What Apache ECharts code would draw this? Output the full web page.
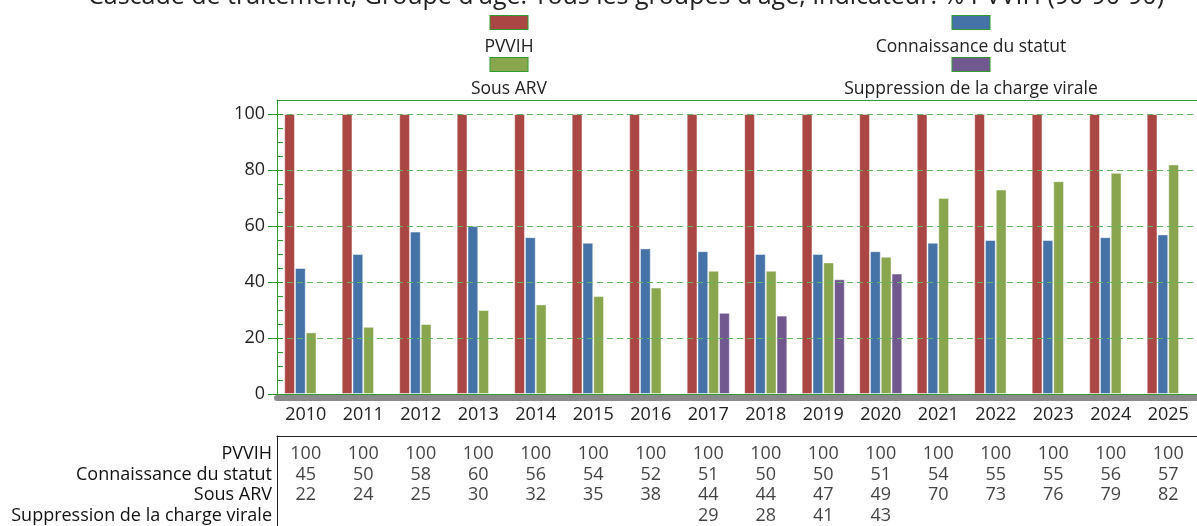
<!DOCTYPE html>
<html style="height: 100%;">

<head>
    <meta charset="utf-8">
    <title>Cascade de traitement</title>
    <script src="https://cdn.jsdelivr.net/npm/echarts@6.0.0/dist/echarts.min.js"></script>
    <style>
        html,
        body {
            height: 100%;
            margin: 0;
            padding: 0;
            background-color: #fff;
        }

        #main {
            width: 1197px;
            height: 526px;
        }
    </style>
</head>

<body>
    <div id="main"></div>
    <script type="text/javascript">
        // données
        var years = ['2010', '2011', '2012', '2013', '2014', '2015', '2016', '2017',
            '2018', '2019', '2020', '2021', '2022', '2023', '2024', '2025'];
        var pvvih = [100, 100, 100, 100, 100, 100, 100, 100, 100, 100, 100, 100, 100, 100, 100, 100];
        var connaissance = [45, 50, 58, 60, 56, 54, 52, 51, 50, 50, 51, 54, 55, 55, 56, 57];
        var sousArv = [22, 24, 25, 30, 32, 35, 38, 44, 44, 47, 49, 70, 73, 76, 79, 82];
        var suppression = [null, null, null, null, null, null, null, 29, 28, 41, 43, null, null, null, null, null];
        var seriesNames = ['PVVIH', 'Connaissance du statut', 'Sous ARV', 'Suppression de la charge virale'];
        var yTicks = [0, 20, 40, 60, 80, 100];

        var seriesValues = [pvvih, connaissance, sousArv, suppression];
        var colors = ['#AA4643', '#4572A7', '#89A54E', '#71588F'];
        var green = '#2f9c2f';
        var font = 'Open Sans';

        var myChart = echarts.init(document.getElementById('main'));

        // légende : carré de couleur au-dessus du nom
        var legendCenters = [[508, 15], [970, 15], [508, 57], [970, 57]];
        var legends = seriesNames.map(function (name, k) {
            var rich = {
                t: { width: 300, align: 'center', fontSize: 17.5, fontFamily: font, color: '#222', padding: [9, 0, 0, 0] }
            };
            rich['b' + k] = {
                width: 37, height: 13, align: 'center',
                backgroundColor: colors[k], borderColor: green, borderWidth: 1
            };
            return {
                data: [name],
                left: legendCenters[k][0] - 155,
                top: legendCenters[k][1],
                padding: 0,
                itemWidth: 0,
                itemHeight: 0,
                itemStyle: { opacity: 0 },
                selectedMode: false,
                formatter: function (n) { return '{b' + k + '|}\n{t|' + n + '}'; },
                textStyle: { rich: rich }
            };
        });

        var series = seriesNames.map(function (name, k) {
            return {
                name: name,
                type: 'bar',
                xAxisIndex: 0,
                yAxisIndex: 0,
                barGap: '0%',
                barCategoryGap: '25%',
                itemStyle: { color: colors[k], borderColor: 'rgba(255,255,255,0.45)', borderWidth: 1 },
                data: seriesValues[k]
            };
        });

        // tableau de données sous le graphique
        var tableData = [];
        seriesValues.forEach(function (row, r) {
            row.forEach(function (v, i) {
                if (v !== null) tableData.push([i, r, v]);
            });
        });
        series.push({
            type: 'scatter',
            xAxisIndex: 4,
            yAxisIndex: 2,
            symbolSize: 1,
            itemStyle: { color: 'transparent' },
            label: {
                show: true,
                position: 'inside',
                fontSize: 18,
                fontFamily: font,
                color: '#111',
                formatter: function (p) { return p.value[2]; }
            },
            data: tableData
        });

        var option = {
            animation: false,
            title: {
                text: "Cascade de traitement, Groupe d'âge: Tous les groupes d'âge, Indicateur: % PVVIH (90-90-90)",
                left: 88,
                top: -16,
                padding: 0,
                textStyle: { fontSize: 25, fontWeight: 'normal', fontFamily: font, color: '#222' }
            },
            legend: legends,
            grid: [
                { left: 277, right: 0, top: 100, bottom: 132, outerBoundsMode: 'none' },
                { left: 277, right: 0, top: 436, bottom: 0, outerBoundsMode: 'none' }
            ],
            xAxis: [
                {
                    type: 'category', gridIndex: 0, data: years, position: 'bottom', z: 5,
                    axisLine: { onZero: false, lineStyle: { color: green, width: 1 } },
                    axisTick: { alignWithLabel: true, length: 10, lineStyle: { color: green } },
                    axisLabel: { margin: 12, fontSize: 18, fontFamily: font, color: '#222' }
                },
                {
                    type: 'category', gridIndex: 0, data: years, position: 'bottom', z: 5,
                    axisLine: { show: false, onZero: false },
                    axisTick: { alignWithLabel: true, inside: true, length: 10, lineStyle: { color: green } },
                    axisLabel: { show: false }
                },
                {
                    type: 'category', gridIndex: 0, data: years, position: 'bottom', offset: 4, z: 1,
                    axisLine: { onZero: false, lineStyle: { color: '#8a8a8a', width: 6 } },
                    axisTick: { show: false },
                    axisLabel: { show: false }
                },
                {
                    type: 'category', gridIndex: 0, data: years, position: 'top',
                    axisLine: { onZero: false, lineStyle: { color: green, width: 1 } },
                    axisTick: { show: false },
                    axisLabel: { show: false }
                },
                {
                    type: 'category', gridIndex: 1, data: years, position: 'top',
                    axisLine: { onZero: false, lineStyle: { color: '#222', width: 1 } },
                    axisTick: { show: false },
                    axisLabel: { show: false }
                }
            ],
            yAxis: [
                {
                    type: 'value', gridIndex: 0, position: 'left', min: 0, max: 105, interval: 20, z: 5,
                    axisLine: { show: true, onZero: false, lineStyle: { color: green, width: 1 } },
                    axisTick: { show: true, length: 9, customValues: yTicks, lineStyle: { color: green } },
                    axisLabel: { margin: 12, customValues: yTicks, fontSize: 18, fontFamily: font, color: '#222' },
                    splitLine: { lineStyle: { color: '#5fb85f', type: [6, 4], width: 1 } }
                },
                {
                    type: 'value', gridIndex: 0, position: 'left', min: 0, max: 105, interval: 5, z: 5,
                    axisLine: { show: false, onZero: false },
                    axisTick: { show: true, inside: true, length: 6, lineStyle: { color: green } },
                    axisLabel: { show: false },
                    splitLine: { show: false }
                },
                {
                    type: 'value', gridIndex: 1, position: 'left', inverse: true, min: -0.87, max: 3.5,
                    axisLine: { show: true, onZero: false, lineStyle: { color: '#222', width: 1 } },
                    axisTick: { show: false },
                    axisLabel: {
                        margin: 5, customValues: [0, 1, 2, 3], fontSize: 18, fontFamily: font, color: '#111',
                        formatter: function (v) { return seriesNames[v]; }
                    },
                    splitLine: { show: false }
                }
            ],
            series: series
        };

        myChart.setOption(option);
    </script>
</body>

</html>
